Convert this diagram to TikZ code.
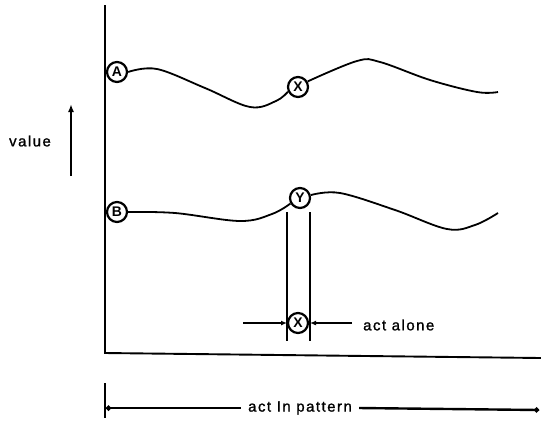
\documentclass[tikz,border=0pt]{standalone}
\usepackage{fontspec}
\setmainfont{Liberation Sans}
\newfontfamily\lblfont[LetterSpace=10,FakeBold=1.2]{Liberation Sans}
\usetikzlibrary{arrows.meta}

\begin{document}
\begin{tikzpicture}[
  x=1bp, y=-1bp,
  pt/.style    = {draw, circle, line width=2.2bp, minimum size=20bp, inner sep=0pt,
                  font=\fontsize{14}{14}\selectfont\bfseries},
  curve/.style = {line width=1.8bp},
  axis/.style  = {line width=1.9bp},
  lbl/.style   = {font=\fontsize{15}{17}\selectfont\lblfont, inner sep=1pt},
  arr/.style   = {-{Latex[length=6bp,width=5bp]}, line width=2.2bp},
]
\useasboundingbox (0,0) rectangle (541,431);

% axes
\coordinate (top) at (105,5);
\coordinate (orig) at (105,353);
\coordinate (xend) at (541,358);
\draw[axis] (top) -- (orig) -- (xend);

% value arrow
\node[lbl] (value) at (30,141) {value};
\coordinate (vlo) at (71,176);
\coordinate (vhi) at (71,104);
\draw[arr, line width=2.6bp, -{Latex[length=8bp,width=6bp]}] (vlo) -- (vhi);

% upper curve
\node[pt] (A) at (117,72) {A};
\node[pt] (X1) at (298,87) {X};
\draw[curve] plot[smooth, tension=0.6] coordinates
  {(A.east) (157,69) (205,88) (250,107) (276,101) (X1.205)};
\draw[curve] plot[smooth, tension=0.6] coordinates
  {(X1.30) (357,61) (380,62) (430,80) (477,92) (498,92)};

% lower curve
\node[pt] (B) at (117,212) {B};
\node[pt] (Y) at (300,198) {Y};
\draw[curve] plot[smooth, tension=0.6] coordinates
  {(B.east) (175,213) (240,221) (272,214) (Y.210)};
\draw[curve] plot[smooth, tension=0.6] coordinates
  {(Y.15) (340,193) (395,210) (447,229) (475,225) (498,213)};

% act alone
\coordinate (lt) at (287,212);
\coordinate (lb) at (287,341);
\coordinate (rt) at (310,212);
\coordinate (rb) at (310,341);
\draw[curve] (lt) -- (lb);
\draw[curve] (rt) -- (rb);
\node[pt] (X2) at (298,323) {X};
\coordinate (al) at (243,323);
\coordinate (ar) at (352,323);
\draw[arr] (al) -- (lt |- X2);
\draw[arr] (ar) -- (rt |- X2);
\node[lbl, anchor=west] (alone) at (362,325) {act alone};

% act in pattern
\coordinate (tkt) at (105,383);
\coordinate (tkb) at (105,418);
\draw[axis] (tkt) -- (tkb);
\node[lbl] (pattern) at (300,408) {act In pattern};
\coordinate (pl) at (106,408);
\coordinate (pr) at (539,410);
\draw[line width=2.4bp, {Circle[length=5bp]}-] (pl) -- ([xshift=-6bp]pattern.west);
\draw[line width=2.4bp, -{Circle[length=5bp]}] ([xshift=6bp]pattern.east) -- (pr);

\end{tikzpicture}
\end{document}
